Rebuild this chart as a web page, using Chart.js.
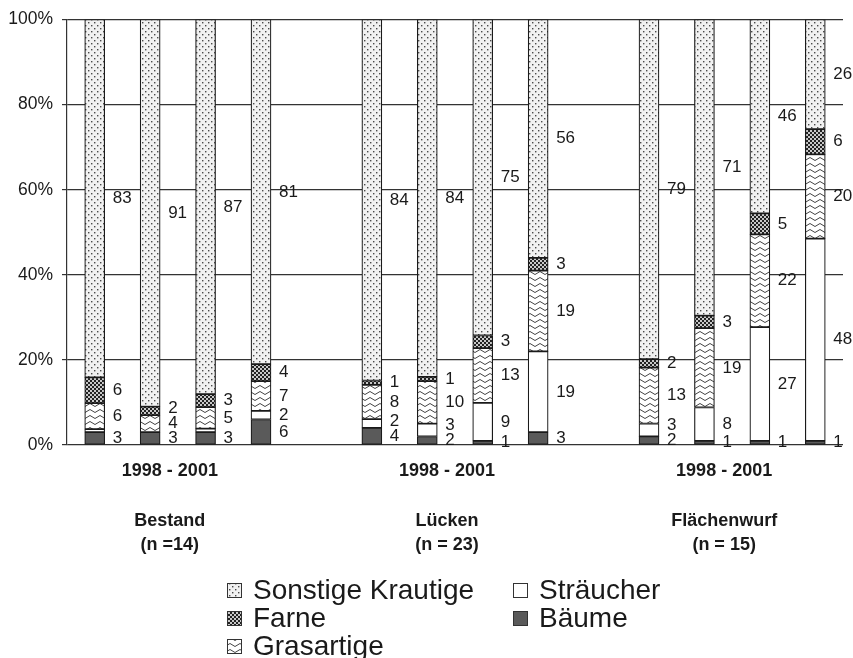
<!DOCTYPE html>
<html>
<head>
<meta charset="utf-8">
<script src="https://cdn.jsdelivr.net/npm/chart.js@4"></script>
<style>
  html, body { margin: 0; padding: 0; background: #fff; }
</style>
</head>
<body>
<canvas id="myChart" width="853" height="658"></canvas>
<script>
// data, one value per bar (4 bars per site, bottom to top in the stack)
var groupNames = ['Bestand', 'Lücken', 'Flächenwurf'];
var groupN = ['(n =14)', '(n = 23)', '(n = 15)'];
var period = '1998 - 2001';
var baeume     = [3, 3, 3, 6,   4, 2, 1, 3,    2, 1, 1, 1];
var straeucher = [0.7, 0, 0.8, 2,   2, 3, 9, 19,   3, 8, 27, 48];
var grasartige = [6, 4, 5, 7,   8, 10, 13, 19,   13, 19, 22, 20];
var farne      = [6, 2, 3, 4,   1, 1, 3, 3,    2, 3, 5, 6];
var sonstige   = [83, 91, 87, 81,   84, 84, 75, 56,   79, 71, 46, 26];
var yTicks = [0, 20, 40, 60, 80, 100];
var legendNames = ['Sonstige Krautige', 'Farne', 'Grasartige', 'Sträucher', 'Bäume'];

var FONT = 'Arial, "Liberation Sans", sans-serif';

// patterns
function makePattern(w, h, draw) {
  var c = document.createElement('canvas');
  c.width = w; c.height = h;
  var g = c.getContext('2d');
  draw(g);
  return g.createPattern(c, 'repeat');
}
var ctx = document.getElementById('myChart').getContext('2d');

var dotFill = makePattern(6, 6, function(g) {
  g.fillStyle = '#f1f1f1'; g.fillRect(0, 0, 6, 6);
  g.fillStyle = '#4a4a4a';
  g.fillRect(1, 1, 1.4, 1.4);
  g.fillRect(4, 4, 1.4, 1.4);
});
var checkFill = makePattern(4, 4, function(g) {
  g.fillStyle = '#222'; g.fillRect(0, 0, 4, 4);
  g.fillStyle = '#c8c8c8';
  g.fillRect(0, 0, 2, 2);
  g.fillRect(2, 2, 2, 2);
});
var waveFill = makePattern(10, 6, function(g) {
  g.fillStyle = '#fff'; g.fillRect(0, 0, 10, 6);
  g.strokeStyle = '#444'; g.lineWidth = 1;
  g.beginPath();
  g.moveTo(0, 1.5); g.lineTo(5, 4.5); g.lineTo(10, 1.5);
  g.stroke();
});
var treeFill = '#5a5a5a';
var shrubFill = '#ffffff';

// 14 category slots, one empty slot between the sites
var slots = [];
var slotLabels = [];
for (var g = 0; g < 3; g++) {
  for (var k = 0; k < 4; k++) { slots.push(g * 4 + k); slotLabels.push(''); }
  if (g < 2) { slots.push(-1); slotLabels.push(''); }
}

var series = [baeume, straeucher, grasartige, farne, sonstige];
var fills = [treeFill, shrubFill, waveFill, checkFill, dotFill];
var names = ['Bäume', 'Sträucher', 'Grasartige', 'Farne', 'Sonstige Krautige'];

function totalOf(i) {
  return series.reduce(function(s, arr) { return s + arr[i]; }, 0);
}

var datasets = series.map(function(arr, s) {
  return {
    label: names[s],
    data: slots.map(function(i) { return i < 0 ? null : arr[i] / totalOf(i) * 100; }),
    backgroundColor: fills[s],
    borderColor: '#1a1a1a',
    borderWidth: 1.2,
    borderSkipped: false,
    barThickness: 20
  };
});

// value labels right of each bar segment
var valueLabels = {
  id: 'valueLabels',
  afterDatasetsDraw: function(chart) {
    var c = chart.ctx;
    c.save();
    c.font = '17px ' + FONT;
    c.fillStyle = '#1a1a1a';
    c.textAlign = 'left';
    c.textBaseline = 'middle';
    slots.forEach(function(i, slot) {
      if (i < 0) return;
      var prev = 9999;
      series.forEach(function(arr, s) {
        var el = chart.getDatasetMeta(s).data[slot];
        if (arr[i] < 1) return;
        var yc = (el.y + el.base) / 2;
        if (yc > prev - 15) yc = prev - 15;
        prev = yc;
        c.fillText(String(arr[i]), el.x + el.width / 2 + 8, yc);
      });
    });
    c.restore();
  }
};

// group captions and legend under the plot
var captions = {
  id: 'captions',
  afterDraw: function(chart) {
    var c = chart.ctx;
    var xs = chart.scales.x;
    c.save();
    c.fillStyle = '#1a1a1a';
    c.textAlign = 'center';
    c.textBaseline = 'middle';
    c.font = 'bold 18px ' + FONT;
    for (var g = 0; g < 3; g++) {
      var first = g * 5, last = g * 5 + 3;
      var cx = (xs.getPixelForValue(first) + xs.getPixelForValue(last)) / 2 - 8;
      c.fillText(period, cx, 471);
      c.fillText(groupNames[g], cx, 521);
      c.fillText(groupN[g], cx, 545);
    }

    var legendFills = [dotFill, checkFill, waveFill, shrubFill, treeFill];
    var pos = [[227, 599], [227, 627], [227, 655], [513, 599], [513, 627]];
    c.font = '28px ' + FONT;
    c.textAlign = 'left';
    c.textBaseline = 'alphabetic';
    legendNames.forEach(function(name, j) {
      var x = pos[j][0], y = pos[j][1];
      c.fillStyle = legendFills[j];
      c.fillRect(x, y - 16, 15, 15);
      c.strokeStyle = '#333';
      c.lineWidth = 1;
      c.strokeRect(x + 0.5, y - 15.5, 14, 14);
      c.fillStyle = '#1a1a1a';
      c.fillText(name, x + 26, y);
    });
    c.restore();
  }
};

var myChart = new Chart(ctx, {
  type: 'bar',
  data: { labels: slotLabels, datasets: datasets },
  options: {
    responsive: false,
    animation: false,
    layout: { padding: { top: 19, right: 10, left: 0, bottom: 0 } },
    plugins: {
      legend: { display: false },
      tooltip: { enabled: false }
    },
    scales: {
      x: {
        stacked: true,
        grid: { display: false },
        border: { display: false },
        ticks: { display: false },
        afterFit: function(scale) { scale.height = 213; }
      },
      y: {
        stacked: true,
        min: 0,
        max: 100,
        afterBuildTicks: function(scale) {
          scale.ticks = yTicks.map(function(v) { return { value: v }; });
        },
        ticks: {
          callback: function(v) { return v + '%'; },
          color: '#1a1a1a',
          font: { family: FONT, size: 17.5 },
          padding: 9
        },
        grid: { color: '#333', lineWidth: 1.2, tickLength: 5 },
        border: { display: true, color: '#333', width: 1.2 },
        afterFit: function(scale) { scale.width = 67; }
      }
    }
  },
  plugins: [valueLabels, captions]
});
</script>
</body>
</html>
